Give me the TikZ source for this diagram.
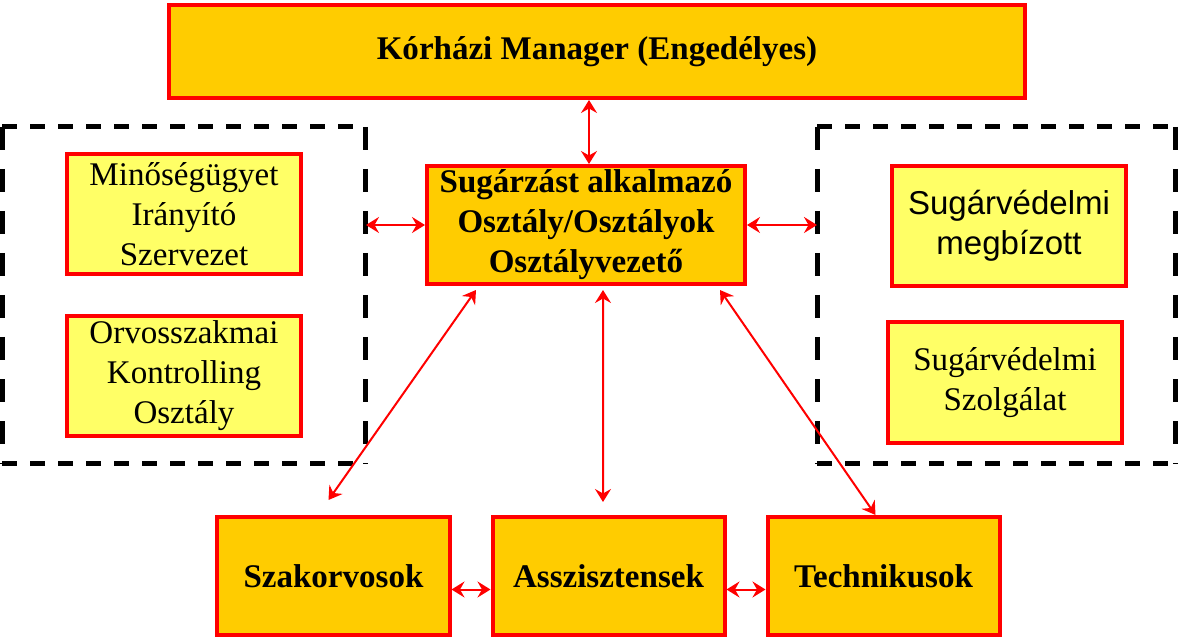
\documentclass[tikz,border=0pt]{standalone}
\usepackage{fontspec}
\setmainfont{Liberation Serif}
\newfontfamily\arialfont{Liberation Sans}
\usetikzlibrary{arrows.meta, positioning}
\definecolor{mainOrange}{HTML}{FFCC00}
\definecolor{lightYellow}{HTML}{FFFF66}
\definecolor{boxRed}{HTML}{FF0000}
\tikzstyle{recNode} = [rectangle, text centered, align=center, inner sep=0pt, draw=boxRed, line width=0.08cm, font=\fontsize{18.8}{22.8}\selectfont]
\tikzstyle{recNodeO} = [recNode, fill=mainOrange, font=\fontsize{18.8}{22.8}\selectfont\bfseries]
\tikzstyle{recNodeY} = [recNode, fill=lightYellow, minimum width=4.68cm, minimum height=2.4cm]
\tikzstyle{bottomNode} = [recNodeO, minimum width=4.64cm, minimum height=2.36cm]
\tikzstyle{groupNode} = [rectangle, outer sep=0pt, minimum width=7.27cm, minimum height=6.74cm]
\tikzstyle{dashH} = [line width=0.1cm, dash pattern=on 0.3cm off 0.26cm]
\tikzstyle{dashV} = [line width=0.1cm, dash pattern=on 0.46cm off 0.38cm]
\tikzstyle{arrowR} = [line width=0.04cm, {Stealth[length=0.26cm, width=0.32cm, inset=0.09cm]}-{Stealth[length=0.26cm, width=0.32cm, inset=0.09cm]}, draw=boxRed]

\begin{document}
\begin{tikzpicture}[node distance=2cm]
        \useasboundingbox (-11.94,1.03) rectangle (11.68,-11.77);
        \node (manager) [recNodeO, minimum width=17.12cm, minimum height=1.86cm] {K\'orh\'azi Manager (Engedélyes)};
        \node (osztaly) [recNodeO, minimum width=6.36cm, minimum height=2.36cm, below of=manager, yshift=-1.47cm, xshift=-0.22cm] {Sugárzást alkalmazó\\Osztály/Osztályok\\Osztályvezető};

        % dashed groups
        \node (balCsoport) [groupNode, below of=manager, xshift=-8.255cm, yshift=-2.88cm] {};
        \node (jobbCsoport) [groupNode, minimum width=7.16cm, below of=manager, xshift=7.98cm, yshift=-2.88cm] {};
        \foreach \g in {balCsoport, jobbCsoport} {
            \draw [dashH] (\g.north west) -- (\g.north east) (\g.south west) -- (\g.south east);
            \draw [dashV] (\g.north west) -- (\g.south west) (\g.north east) -- (\g.south east);
        }

        \node (minoseg) [recNodeY, left of=osztaly, xshift=-6.04cm, yshift=0.22cm] {Minőségügyet\\Irányító\\Szervezet};
        \node (kontroll) [recNodeY, below of=minoseg, yshift=-1.24cm] {Orvosszakmai\\Kontrolling\\Osztály};
        \node (megbizott) [recNodeY, right of=osztaly, xshift=6.46cm, yshift=-0.02cm, font=\fontsize{18.8}{22.8}\selectfont\arialfont] {Sugárvédelmi\\megbízott};
        \node (szolgalat) [recNodeY, minimum height=2.42cm, below of=megbizott, yshift=-1.13cm, xshift=-0.08cm] {Sugárvédelmi\\Szolgálat};

        \node (asszisztens) [bottomNode, below of=osztaly, yshift=-5.02cm, xshift=0.45cm] {Asszisztensek};
        \node (szakorvos) [bottomNode, left of=asszisztens, xshift=-3.5cm] {Szakorvosok};
        \node (technikus) [bottomNode, right of=asszisztens, xshift=3.5cm] {Technikusok};

        \coordinate (szakFelett) at ([xshift=-0.1cm, yshift=0.3cm]szakorvos.north);
        \coordinate (asszFelett) at ([xshift=-0.11cm, yshift=0.26cm]asszisztens.north);

        \draw [arrowR] ([xshift=-0.16cm]manager.south) -- ([xshift=0.06cm]osztaly.north);
        \draw [arrowR] (osztaly.west) -- (osztaly.west -| balCsoport.east);
        \draw [arrowR] (osztaly.east) -- (osztaly.east -| jobbCsoport.west);
        \draw [arrowR] ([xshift=-2.2cm, yshift=-0.08cm]osztaly.south) -- (szakFelett);
        \draw [arrowR] ([xshift=0.34cm, yshift=-0.08cm]osztaly.south) -- (asszFelett);
        \draw [arrowR] ([xshift=2.68cm, yshift=-0.08cm]osztaly.south) -- ([xshift=-0.16cm]technikus.north);
        \draw [arrowR] ([yshift=-0.27cm]szakorvos.east) -- ([yshift=-0.27cm]asszisztens.west);
        \draw [arrowR] ([yshift=-0.27cm]asszisztens.east) -- ([yshift=-0.27cm]technikus.west);
    \end{tikzpicture}
\end{document}
